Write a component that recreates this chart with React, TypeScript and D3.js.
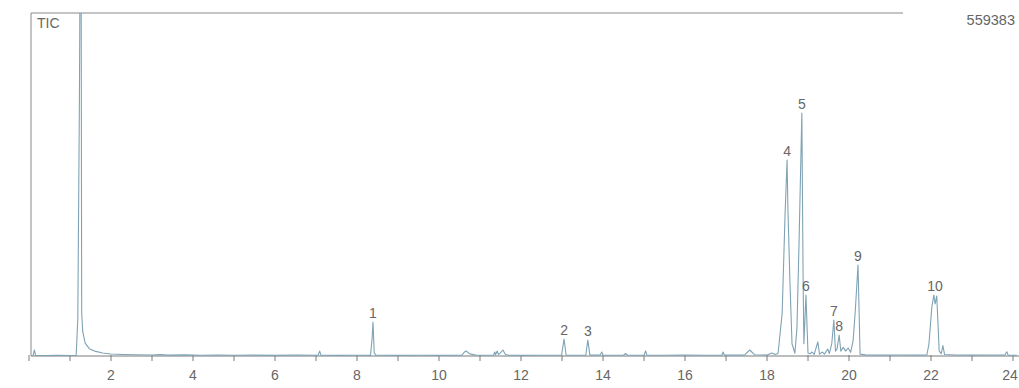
import React from "react"
import * as d3 from "d3"

// TIC trace (minutes, counts)
const traceTime = [
  0.05, 0.1, 0.13, 0.16, 0.4, 0.7, 1.0, 1.15, 1.19, 1.23, 1.25, 1.27, 1.285, 1.31, 1.37, 1.47, 1.6, 1.8,
  2.0, 2.3, 2.6, 3.0, 3.2, 3.4, 3.8, 4.2, 4.6, 5.0, 5.5, 6.0, 6.5, 7.05, 7.09, 7.12, 7.5, 8.0,
  8.33, 8.37, 8.39, 8.42, 8.46, 9.0, 9.5, 10.0, 10.55, 10.62, 10.66, 10.75, 10.9, 11.2, 11.33, 11.36,
  11.38, 11.42, 11.45, 11.5, 11.56, 11.62, 11.7, 12.0, 12.5, 12.99, 13.05, 13.1, 13.4, 13.58, 13.63,
  13.68, 13.93, 13.97, 14.0, 14.5, 14.55, 14.6, 15.0, 15.04, 15.07, 15.5, 16.0, 16.5, 16.9, 16.93,
  16.96, 17.45, 17.58, 17.7, 18.0, 18.12, 18.2, 18.27, 18.37, 18.44, 18.49, 18.51, 18.56, 18.61,
  18.68, 18.73, 18.78, 18.85, 18.88, 18.9, 18.95, 19.0, 19.05, 19.1, 19.15, 19.24, 19.28, 19.35,
  19.4, 19.48, 19.52, 19.58, 19.63, 19.67, 19.71, 19.76, 19.8, 19.86, 19.92, 19.98, 20.04, 20.1,
  20.15, 20.22, 20.27, 20.4, 20.8, 21.2, 21.6, 21.9, 21.95, 22.02, 22.07, 22.1, 22.14, 22.2, 22.25,
  22.29, 22.33, 22.6, 23.0, 23.5, 23.8, 23.85, 23.88, 24.1,
]
const traceCounts = [
  800, 1000, 9800, 1000, 800, 1200, 900, 1000, 60000, 420000, 700000, 700000, 70000, 40000, 21000, 12000, 8000, 5000,
  3300, 2500, 2000, 1700, 2300, 1500, 1800, 1300, 1600, 1200, 1500, 1100, 1400, 1200, 8000, 1300, 1100, 1200,
  1100, 30000, 55500, 5000, 1200, 1000, 1300, 1100, 1200, 6500, 8200, 3500, 1400, 1200, 1300, 6500,
  2000, 8200, 2200, 5000, 9800, 2500, 1300, 1100, 1200, 1300, 27700, 1500, 1200, 1300, 26100,
  1500, 1400, 6500, 1400, 1300, 4000, 1300, 1400, 8200, 1400, 1300, 1400, 1300, 1400, 6500,
  1400, 1500, 9800, 2000, 1600, 4900, 2500, 4000, 70000, 230000, 319700, 240000, 120000, 20000,
  4500, 45000, 180000, 396300, 130000, 20000, 99500, 5000, 3500, 6500, 2500, 22800, 3000, 6500,
  3000, 11400, 4000, 20000, 58700, 8000, 12000, 34300, 8000, 14000, 8000, 13000, 6000, 25000,
  70000, 148400, 3000, 1800, 1500, 1700, 1400, 1600, 20000, 80000, 99500, 84800, 97900, 8000, 4000,
  17000, 2500, 1600, 1400, 1600, 1500, 7000, 1500, 1300,
]

const peakNames = ["1", "2", "3", "4", "5", "6", "7", "8", "9", "10"]
const peakTimes = [8.39, 13.05, 13.63, 18.49, 18.85, 18.95, 19.63, 19.76, 20.22, 22.1]
const peakCounts = [55500, 27700, 26100, 319700, 396300, 99500, 58700, 34300, 148400, 99500]

const minuteTicks = d3.range(0, 25)
const tickLabels = [2, 4, 6, 8, 10, 12, 14, 16, 18, 20, 22, 24]
const maxCounts = 559383

const W = 1019
const H = 388
const left = 31
const top = 13
const base = 356

const App = () => {
  const x = d3.scaleLinear().domain([0, 24]).range([29, 1013])
  const y = d3.scaleLinear().domain([0, maxCounts]).range([base, top])

  const line = d3
    .line<number>()
    .x((d, i) => x(traceTime[i]))
    .y(d => y(d))

  const font = "'Liberation Sans', Arial, sans-serif"

  return (
    <svg
      width={W}
      height={H}
      style={{ position: "absolute", left: 0, top: 0, background: "#fff" }}
    >
      <defs>
        <clipPath id="plot">
          <rect x={left} y={top} width={W - left} height={base - top + 2} />
        </clipPath>
      </defs>

      {/* frame */}
      <line x1={left} x2={903} y1={top} y2={top} stroke="#8a8a8a" strokeWidth={1} />
      <line x1={left} x2={left} y1={top} y2={base} stroke="#8a8a8a" strokeWidth={1} />
      <text x={37} y={28} fontSize={14} fontFamily={font} fill="#666">TIC</text>
      <text x={1015} y={25} fontSize={14.5} fontFamily={font} fill="#666" textAnchor="end">
        {maxCounts}
      </text>

      {/* x axis */}
      <line x1={left} x2={W} y1={base} y2={base} stroke="#7a7a7a" strokeWidth={1} />
      {minuteTicks.map(t => (
        <line key={t} x1={x(t)} x2={x(t)} y1={base - 1} y2={base + 5} stroke="#7a7a7a" />
      ))}
      {tickLabels.map(t => (
        <text
          key={t}
          x={Math.min(x(t), W - 9)}
          y={380}
          fontSize={14}
          fontFamily={font}
          fill="#666"
          textAnchor="middle"
        >
          {t}
        </text>
      ))}

      {/* trace */}
      <path
        d={line(traceCounts) || ""}
        fill="none"
        stroke="#7fa3b5"
        strokeWidth={1.1}
        strokeLinejoin="round"
        clipPath="url(#plot)"
      />

      {/* peak numbers */}
      {peakNames.map((n, i) => (
        <text
          key={n}
          x={x(peakTimes[i])}
          y={y(peakCounts[i]) - 4}
          fontSize={14}
          fontFamily={font}
          fill="#666"
          textAnchor="middle"
        >
          {n}
        </text>
      ))}
    </svg>
  )
}

export default App
